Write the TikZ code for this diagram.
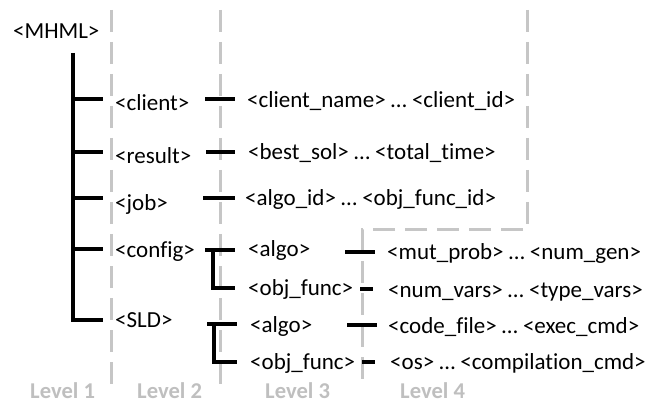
\documentclass[tikz,border=0pt]{standalone}
\usepackage{fontspec}
\setmainfont{Carlito}[Ligatures={NoCommon}]
\begin{document}
\begin{tikzpicture}[x=1pt,y=-1pt,
  lbl/.style={anchor=base west,inner sep=0pt,font=\fontsize{23}{25}\selectfont},
  lvl/.style={anchor=base west,inner sep=0pt,font=\fontsize{22.6}{25}\selectfont\bfseries,text=levelgray},
  tree/.style={line width=3.2pt,black},
  guide/.style={line width=3pt,guidegray,dash pattern=on 22pt off 10pt}]
\definecolor{levelgray}{HTML}{BFBFBF}
\definecolor{guidegray}{HTML}{C6C6C6}
\useasboundingbox (0,0) rectangle (650,403);
% guides
\coordinate (g1t) at (111,10); \coordinate (g1b) at (111,385);
\coordinate (g2t) at (220,10); \coordinate (g2b) at (220,385);
\coordinate (g3t) at (527,10); \coordinate (g3c) at (527,230);
\coordinate (g4c) at (362,230); \coordinate (g4b) at (362,382);
\draw[guide] (g1t) -- (g1b);
\draw[guide] (g2t) -- (g2b);
\draw[guide] (g3t) -- (g3c) -- (g4c) -- (g4b);
% level 1
\node[lbl] (mhml) at (13,39) {<MHML>};
% level 2
\node[lbl] (client) at (115,111) {<client>};
\node[lbl] (result) at (115,164) {<result>};
\node[lbl] (job) at (115,211) {<job>};
\node[lbl] (config) at (115,258) {<config>};
\node[lbl] (sld) at (115,327) {<SLD>};
% level 3
\node[lbl] (cname) at (247,108) {<client\_name> … <client\_id>};
\node[lbl] (best) at (248,160) {<best\_sol> … <total\_time>};
\node[lbl] (algoid) at (245,206) {<algo\_id> … <obj\_func\_id>};
\node[lbl] (calgo) at (248,257) {<algo>};
\node[lbl] (cobj) at (248,295) {<obj\_func>};
\node[lbl] (salgo) at (250,332) {<algo>};
\node[lbl] (sobj) at (250,369) {<obj\_func>};
% level 4
\node[lbl] (mut) at (387,260) {<mut\_prob> … <num\_gen>};
\node[lbl] (nvars) at (388,297) {<num\_vars> … <type\_vars>};
\node[lbl] (code) at (388,333) {<code\_file> … <exec\_cmd>};
\node[lbl] (os) at (390,369) {<os> … <compilation\_cmd>};
% level labels
\node[lvl] (l1) at (30,398) {Level 1};
\node[lvl] (l2) at (137,398) {Level 2};
\node[lvl] (l3) at (265,398) {Level 3};
\node[lvl] (l4) at (400,398) {Level 4};
% main tree
\coordinate (top) at (73,53);
\coordinate (bot) at (73,320);
\draw[tree] (top) -- (bot) -- (103,320);
\foreach \y in {99,152,198,249} \draw[tree] (73,\y) -- (103,\y);
% level 2 -> 3 ticks
\draw[tree] (205,99) -- (235,99);
\draw[tree] (206,152) -- (235,152);
\draw[tree] (203,198) -- (235,198);
\draw[tree] (205,250) -- (235,250);
\draw[tree] (213,250) -- (213,288) -- (235,288);
\draw[tree] (207,324) -- (237,324);
\draw[tree] (214,324) -- (214,362) -- (237,362);
% level 3 -> 4 ticks
\draw[tree] (345,252) -- (375,252);
\draw[tree] (360,289) -- (373,289);
\draw[tree] (347,325) -- (377,325);
\draw[tree] (362,362) -- (375,362);
\end{tikzpicture}
\end{document}
